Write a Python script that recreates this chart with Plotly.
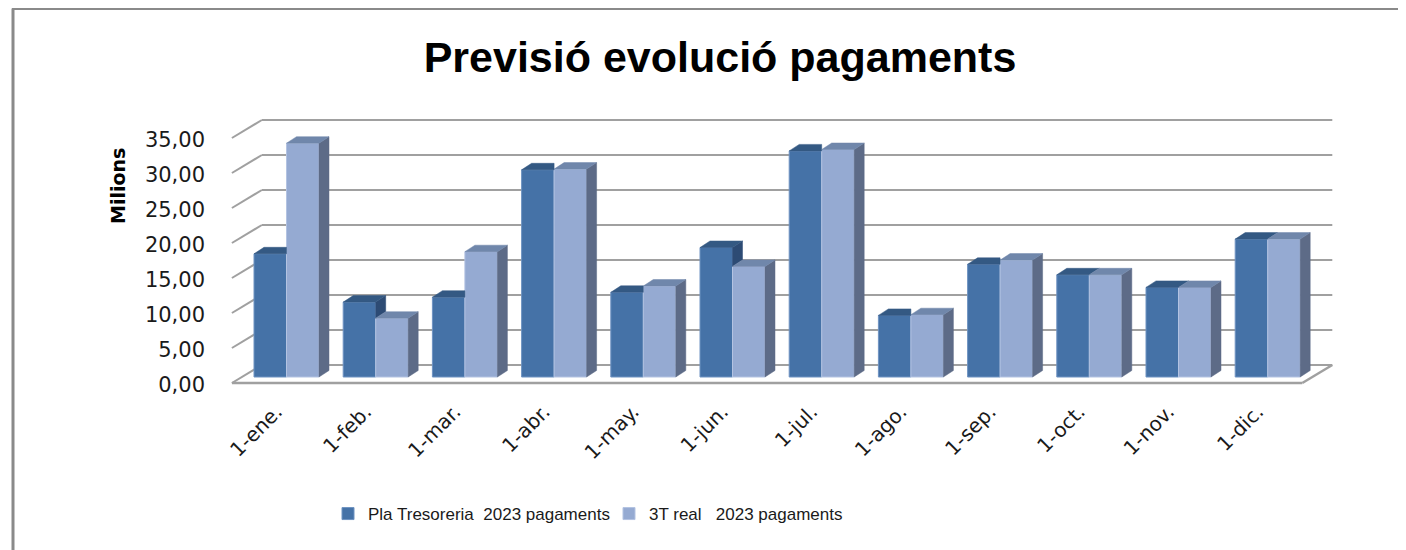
import plotly.graph_objects as go

# ---------------- data ----------------
categories = ["1-ene.", "1-feb.", "1-mar.", "1-abr.", "1-may.", "1-jun.",
              "1-jul.", "1-ago.", "1-sep.", "1-oct.", "1-nov.", "1-dic."]
pla_tresoreria = [17.6, 10.7, 11.4, 29.6, 12.1, 18.5, 32.3, 8.8, 16.1, 14.6, 12.8, 19.7]
real_3t = [33.4, 8.4, 17.9, 29.7, 13.0, 15.8, 32.5, 8.9, 16.7, 14.6, 12.8, 19.7]
y_tick_values = [0, 5, 10, 15, 20, 25, 30, 35]
y_tick_text = ["0,00", "5,00", "10,00", "15,00", "20,00", "25,00", "30,00", "35,00"]
series_names = ["Pla Tresoreria  2023 pagaments", "3T real   2023 pagaments"]

# ---------------- styling / pseudo-3D geometry ----------------
# the page adds an 8px body margin, so the figure is laid out 8px up/left
W, H = 1398, 542
L, R, T, B = 218, 1332, 102, 387           # plot area in figure pixels
PX_X = 89.2                                # pixels per category
X0 = 278.5                                 # pixel of category 0 centre
Y0 = 369.0                                 # pixel of value 0 (bar plane)
PX_Y = 7.0                                 # pixels per unit
x_range = [(L - X0) / PX_X, (R - X0) / PX_X]
y_range = [(Y0 - B) / PX_Y, (Y0 - T) / PX_Y]

dxf, dyf = -10 / PX_X, -6 / PX_Y           # front edge offset from bar plane
dxb, dyb = 20 / PX_X, 12 / PX_Y            # back wall offset from bar plane
ddx, ddy = 10 / PX_X, 6.5 / PX_Y           # bar depth
bargap = 0.2713
w = (1 - bargap) / 2

C_DARK, C_DARK_TOP, C_DARK_SIDE = "#4572A7", "#345983", "#2d4b74"
C_LIGHT, C_LIGHT_TOP, C_LIGHT_SIDE = "#95AAD2", "#7087ab", "#5d6b87"
GRID = "#a0a0a0"
X_TICK_FONT = dict(family="DejaVu Sans", size=20, color="#1a1a1a")
Y_TICK_FONT = dict(family="DejaVu Sans", size=21, color="#1a1a1a")

idx = list(range(len(categories)))

fig = go.Figure()
fig.add_trace(go.Bar(x=idx, y=pla_tresoreria, name=series_names[0],
                     marker=dict(color=C_DARK, line=dict(color="#6f93c2", width=1)),
                     hoverinfo="y"))
fig.add_trace(go.Bar(x=idx, y=real_3t, name=series_names[1],
                     marker=dict(color=C_LIGHT, line=dict(color="#b3c3e2", width=1)),
                     hoverinfo="y"))


def poly_trace(xs, ys, color):
    return go.Scatter(x=xs, y=ys, mode="lines", fill="toself", fillcolor=color,
                      line=dict(color=color, width=0.5), hoverinfo="skip",
                      showlegend=False)


dark_side_x, dark_side_y, dark_top_x, dark_top_y = [], [], [], []
light_side_x, light_side_y, light_top_x, light_top_y = [], [], [], []
for i, vd, vl in zip(idx, pla_tresoreria, real_3t):
    xl, xr = i - w, i
    # visible part of the dark bar's side (only above the light bar)
    if vd > vl:
        dark_side_x += [xr, xr, xr + ddx, xr + ddx, xr, None]
        dark_side_y += [vl, vd, vd + ddy, vl + ddy, vl, None]
    # dark top
    if vd >= vl:
        dark_top_x += [xl, xr, xr + ddx, xl + ddx, xl, None]
        dark_top_y += [vd, vd, vd + ddy, vd + ddy, vd, None]
    else:
        dark_top_x += [xl, xr, xr, xl + ddx, xl, None]
        dark_top_y += [vd, vd, vd + ddy, vd + ddy, vd, None]
    # light bar side and top
    lx, rx = i, i + w
    light_side_x += [rx, rx, rx + ddx, rx + ddx, rx, None]
    light_side_y += [0, vl, vl + ddy, ddy, 0, None]
    light_top_x += [lx, rx, rx + ddx, lx + ddx, lx, None]
    light_top_y += [vl, vl, vl + ddy, vl + ddy, vl, None]

fig.add_trace(poly_trace(dark_side_x, dark_side_y, C_DARK_SIDE))
fig.add_trace(poly_trace(dark_top_x, dark_top_y, C_DARK_TOP))
fig.add_trace(poly_trace(light_side_x, light_side_y, C_LIGHT_SIDE))
fig.add_trace(poly_trace(light_top_x, light_top_y, C_LIGHT_TOP))

# walls / gridlines
xa, xb = -0.5, len(categories) - 0.5
shapes = []
for v in y_tick_values:
    shapes.append(dict(type="line", xref="x", yref="y", layer="below",
                       x0=xa + dxb, y0=v + dyb, x1=xb + dxb, y1=v + dyb,
                       line=dict(color=GRID, width=2)))
    shapes.append(dict(type="line", xref="x", yref="y", layer="below",
                       x0=xa + dxf, y0=v + dyf, x1=xa + dxb, y1=v + dyb,
                       line=dict(color=GRID, width=2)))
shapes.append(dict(type="line", xref="x", yref="y", layer="below",
                   x0=xa + dxf, y0=dyf, x1=xb + dxf, y1=dyf,
                   line=dict(color=GRID, width=2.5)))
shapes.append(dict(type="line", xref="x", yref="y", layer="below",
                   x0=xb + dxf, y0=dyf, x1=xb + dxb, y1=dyb,
                   line=dict(color=GRID, width=2.5)))


def px_to_paper_x(px):
    return (px - L) / (R - L)


def px_to_paper_y(py):
    return (B - py) / (B - T)


# outer chart border (left and top)
shapes.append(dict(type="line", xref="paper", yref="paper", layer="above",
                   x0=px_to_paper_x(5), y0=px_to_paper_y(0.5),
                   x1=px_to_paper_x(5), y1=px_to_paper_y(560),
                   line=dict(color="#8a8a8a", width=3)))
shapes.append(dict(type="line", xref="paper", yref="paper", layer="above",
                   x0=px_to_paper_x(4), y0=px_to_paper_y(0.5),
                   x1=px_to_paper_x(1420), y1=px_to_paper_y(0.5),
                   line=dict(color="#8a8a8a", width=3)))

fig.update_layout(
    width=W, height=H,
    margin=dict(l=L, r=W - R, t=T, b=H - B, autoexpand=False),
    paper_bgcolor="white", plot_bgcolor="white",
    barmode="group", bargap=bargap, bargroupgap=0,
    title=dict(text="<b>Previsió evolució pagaments</b>",
               x=712 / W, y=1 - 49 / H, xanchor="center", yanchor="middle",
               font=dict(family="Liberation Sans, Arial, sans-serif",
                         size=43, color="black")),
    xaxis=dict(range=x_range, showgrid=False, zeroline=False, showline=False,
               tickmode="array", tickvals=[i + dxf for i in idx], ticktext=categories,
               tickangle=-45, ticks="", tickfont=X_TICK_FONT, fixedrange=True),
    yaxis=dict(range=y_range, showgrid=False, zeroline=False, showline=False,
               tickmode="array", tickvals=[v + dyf - 0.25 for v in y_tick_values],
               ticktext=y_tick_text, ticks="", tickfont=Y_TICK_FONT,
               ticklabelstandoff=20, fixedrange=True),
    legend=dict(orientation="h", x=px_to_paper_x(320), y=px_to_paper_y(506),
                xanchor="left", yanchor="middle", traceorder="normal",
                entrywidth=236, entrywidthmode="pixels",
                font=dict(family="Liberation Sans, Arial, sans-serif",
                          size=17, color="#1a1a1a")),
    shapes=shapes,
    annotations=[dict(text="<b>Milions</b>", textangle=-90, showarrow=False,
                      xref="paper", yref="paper", x=px_to_paper_x(110),
                      y=px_to_paper_y(178), xanchor="center", yanchor="middle",
                      font=dict(family="DejaVu Sans", size=19, color="black"))],
)

fig.write_html("out.html")
